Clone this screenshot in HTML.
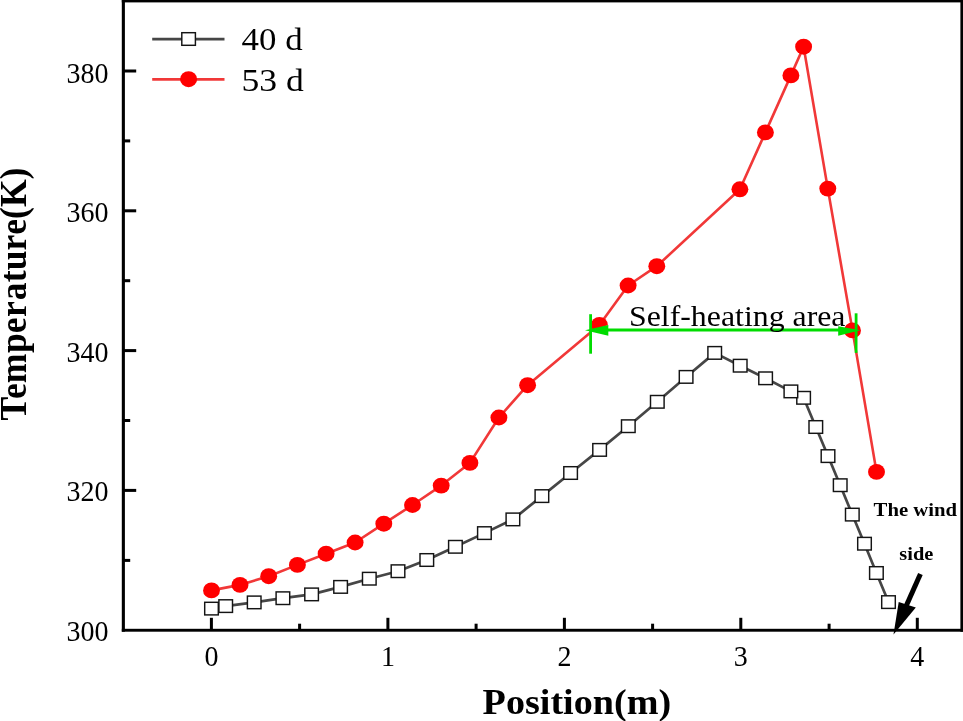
<!DOCTYPE html>
<html><head><meta charset="utf-8"><title>Temperature vs Position</title>
<style>html,body{margin:0;padding:0;background:#fff}svg{display:block}text{font-family:"Liberation Serif",serif;fill:#000;font-kerning:none}.b{font-weight:bold}</style>
</head><body>
<svg width="963" height="721" viewBox="0 0 963 721">
<rect x="0" y="0" width="963" height="721" fill="#fff"/>
<polyline points="211.5,608.6 225.7,606.1 254.2,602.4 282.9,598.2 311.6,594.4 340.6,586.9 369.3,578.7 398.0,571.2 426.8,560.0 455.4,546.8 484.4,533.1 512.9,519.4 541.9,496.1 570.6,473.0 599.6,449.9 628.3,426.2 657.3,401.8 686.1,376.9 714.7,352.9 740.2,365.7 765.6,378.3 790.9,391.4 803.6,397.8 815.8,427.0 828.0,456.1 840.2,485.2 852.3,514.6 864.5,543.7 876.4,573.0 888.5,602.1" fill="none" stroke="#464646" stroke-width="2.7" stroke-linejoin="round"/>
<polyline points="211.5,590.4 240.0,584.9 268.7,576.2 297.4,564.9 326.1,553.7 355.1,542.5 383.8,523.7 412.5,505.0 441.2,485.6 469.9,462.9 498.9,417.5 527.6,385.2 599.4,324.9 628.1,285.5 656.8,266.2 739.9,189.3 765.4,132.4 790.9,75.4 803.6,46.7 827.8,188.6 852.5,330.4 876.5,471.9" fill="none" stroke="#f13838" stroke-width="2.6" stroke-linejoin="round"/>
<rect x="881.7" y="595.8" width="13.6" height="12.6" fill="#fff" stroke="#141414" stroke-width="1.45"/>
<rect x="869.6" y="566.7" width="13.6" height="12.6" fill="#fff" stroke="#141414" stroke-width="1.45"/>
<rect x="857.7" y="537.4" width="13.6" height="12.6" fill="#fff" stroke="#141414" stroke-width="1.45"/>
<rect x="845.5" y="508.3" width="13.6" height="12.6" fill="#fff" stroke="#141414" stroke-width="1.45"/>
<rect x="833.4" y="478.9" width="13.6" height="12.6" fill="#fff" stroke="#141414" stroke-width="1.45"/>
<rect x="821.2" y="449.8" width="13.6" height="12.6" fill="#fff" stroke="#141414" stroke-width="1.45"/>
<rect x="809.0" y="420.7" width="13.6" height="12.6" fill="#fff" stroke="#141414" stroke-width="1.45"/>
<rect x="796.8" y="391.5" width="13.6" height="12.6" fill="#fff" stroke="#141414" stroke-width="1.45"/>
<rect x="784.1" y="385.1" width="13.6" height="12.6" fill="#fff" stroke="#141414" stroke-width="1.45"/>
<rect x="758.8" y="372.0" width="13.6" height="12.6" fill="#fff" stroke="#141414" stroke-width="1.45"/>
<rect x="733.4" y="359.4" width="13.6" height="12.6" fill="#fff" stroke="#141414" stroke-width="1.45"/>
<rect x="707.9" y="346.6" width="13.6" height="12.6" fill="#fff" stroke="#141414" stroke-width="1.45"/>
<rect x="679.3" y="370.6" width="13.6" height="12.6" fill="#fff" stroke="#141414" stroke-width="1.45"/>
<rect x="650.5" y="395.5" width="13.6" height="12.6" fill="#fff" stroke="#141414" stroke-width="1.45"/>
<rect x="621.5" y="419.9" width="13.6" height="12.6" fill="#fff" stroke="#141414" stroke-width="1.45"/>
<rect x="592.8" y="443.6" width="13.6" height="12.6" fill="#fff" stroke="#141414" stroke-width="1.45"/>
<rect x="563.8" y="466.7" width="13.6" height="12.6" fill="#fff" stroke="#141414" stroke-width="1.45"/>
<rect x="535.1" y="489.8" width="13.6" height="12.6" fill="#fff" stroke="#141414" stroke-width="1.45"/>
<rect x="506.1" y="513.1" width="13.6" height="12.6" fill="#fff" stroke="#141414" stroke-width="1.45"/>
<rect x="477.6" y="526.8" width="13.6" height="12.6" fill="#fff" stroke="#141414" stroke-width="1.45"/>
<rect x="448.6" y="540.5" width="13.6" height="12.6" fill="#fff" stroke="#141414" stroke-width="1.45"/>
<rect x="420.0" y="553.7" width="13.6" height="12.6" fill="#fff" stroke="#141414" stroke-width="1.45"/>
<rect x="391.2" y="564.9" width="13.6" height="12.6" fill="#fff" stroke="#141414" stroke-width="1.45"/>
<rect x="362.5" y="572.4" width="13.6" height="12.6" fill="#fff" stroke="#141414" stroke-width="1.45"/>
<rect x="333.8" y="580.6" width="13.6" height="12.6" fill="#fff" stroke="#141414" stroke-width="1.45"/>
<rect x="304.8" y="588.1" width="13.6" height="12.6" fill="#fff" stroke="#141414" stroke-width="1.45"/>
<rect x="276.1" y="591.9" width="13.6" height="12.6" fill="#fff" stroke="#141414" stroke-width="1.45"/>
<rect x="247.4" y="596.1" width="13.6" height="12.6" fill="#fff" stroke="#141414" stroke-width="1.45"/>
<rect x="218.9" y="599.8" width="13.6" height="12.6" fill="#fff" stroke="#141414" stroke-width="1.45"/>
<rect x="204.7" y="602.3" width="13.6" height="12.6" fill="#fff" stroke="#141414" stroke-width="1.45"/>
<ellipse cx="211.5" cy="590.4" rx="8.45" ry="7.95" fill="#ff0000"/>
<ellipse cx="240.0" cy="584.9" rx="8.45" ry="7.95" fill="#ff0000"/>
<ellipse cx="268.7" cy="576.2" rx="8.45" ry="7.95" fill="#ff0000"/>
<ellipse cx="297.4" cy="564.9" rx="8.45" ry="7.95" fill="#ff0000"/>
<ellipse cx="326.1" cy="553.7" rx="8.45" ry="7.95" fill="#ff0000"/>
<ellipse cx="355.1" cy="542.5" rx="8.45" ry="7.95" fill="#ff0000"/>
<ellipse cx="383.8" cy="523.7" rx="8.45" ry="7.95" fill="#ff0000"/>
<ellipse cx="412.5" cy="505.0" rx="8.45" ry="7.95" fill="#ff0000"/>
<ellipse cx="441.2" cy="485.6" rx="8.45" ry="7.95" fill="#ff0000"/>
<ellipse cx="469.9" cy="462.9" rx="8.45" ry="7.95" fill="#ff0000"/>
<ellipse cx="498.9" cy="417.5" rx="8.45" ry="7.95" fill="#ff0000"/>
<ellipse cx="527.6" cy="385.2" rx="8.45" ry="7.95" fill="#ff0000"/>
<ellipse cx="599.4" cy="324.9" rx="8.45" ry="7.95" fill="#ff0000"/>
<ellipse cx="628.1" cy="285.5" rx="8.45" ry="7.95" fill="#ff0000"/>
<ellipse cx="656.8" cy="266.2" rx="8.45" ry="7.95" fill="#ff0000"/>
<ellipse cx="739.9" cy="189.3" rx="8.45" ry="7.95" fill="#ff0000"/>
<ellipse cx="765.4" cy="132.4" rx="8.45" ry="7.95" fill="#ff0000"/>
<ellipse cx="790.9" cy="75.4" rx="8.45" ry="7.95" fill="#ff0000"/>
<ellipse cx="803.6" cy="46.7" rx="8.45" ry="7.95" fill="#ff0000"/>
<ellipse cx="827.8" cy="188.6" rx="8.45" ry="7.95" fill="#ff0000"/>
<ellipse cx="852.5" cy="330.4" rx="8.45" ry="7.95" fill="#ff0000"/>
<ellipse cx="876.5" cy="471.9" rx="8.45" ry="7.95" fill="#ff0000"/>
<polygon points="592,330.5 608.6,325 608.6,334.5 592,334.5" fill="#fff"/>
<g stroke="#00dc00" fill="#00dc00">
<line x1="590.6" y1="314.2" x2="590.6" y2="353.7" stroke-width="2.8"/>
<line x1="856.1" y1="313.3" x2="856.1" y2="352.9" stroke-width="2.8"/>
<line x1="600" y1="330" x2="845" y2="330" stroke-width="3"/>
<polygon points="585,330.2 608.3,325 608.3,335.7" stroke="none"/>
<polygon points="860.4,330.2 838.2,326.2 838.2,335.7" stroke="none"/>
</g>
<text x="629" y="326.2" font-size="30" textLength="216.5" lengthAdjust="spacingAndGlyphs">Self-heating area</text>
<g fill="#000">
<rect x="121.8" y="0" width="841.2" height="2.4"/>
<rect x="121.8" y="0" width="3.1" height="631.7"/>
<rect x="121.8" y="628.8" width="841.2" height="2.9"/>
<rect x="960.4" y="0" width="2.6" height="631.7"/>
<rect x="123" y="558.9" width="7.2" height="3"/>
<rect x="123" y="488.9" width="13.2" height="3"/>
<rect x="123" y="419.0" width="7.2" height="3"/>
<rect x="123" y="349.1" width="13.2" height="3"/>
<rect x="123" y="279.2" width="7.2" height="3"/>
<rect x="123" y="209.3" width="13.2" height="3"/>
<rect x="123" y="139.4" width="7.2" height="3"/>
<rect x="123" y="69.5" width="13.2" height="3"/>
<rect x="209.9" y="617.8" width="3" height="12.4"/>
<rect x="298.1" y="623.7" width="3" height="6.5"/>
<rect x="386.4" y="617.8" width="3" height="12.4"/>
<rect x="474.6" y="623.7" width="3" height="6.5"/>
<rect x="562.9" y="617.8" width="3" height="12.4"/>
<rect x="651.1" y="623.7" width="3" height="6.5"/>
<rect x="739.3" y="617.8" width="3" height="12.4"/>
<rect x="827.6" y="623.7" width="3" height="6.5"/>
<rect x="915.8" y="617.8" width="3" height="12.4"/>
</g>
<text transform="translate(108.6 641.1) scale(1 1.055)" font-size="28" text-anchor="end">300</text>
<text transform="translate(108.6 500.9) scale(1 1.055)" font-size="28" text-anchor="end">320</text>
<text transform="translate(108.6 362.0) scale(1 1.055)" font-size="28" text-anchor="end">340</text>
<text transform="translate(108.6 222.0) scale(1 1.055)" font-size="28" text-anchor="end">360</text>
<text transform="translate(108.6 83.0) scale(1 1.055)" font-size="28" text-anchor="end">380</text>
<text transform="translate(211.4 666) scale(1 1.055)" font-size="28" text-anchor="middle">0</text>
<text transform="translate(387.9 666) scale(1 1.055)" font-size="28" text-anchor="middle">1</text>
<text transform="translate(564.4 666) scale(1 1.055)" font-size="28" text-anchor="middle">2</text>
<text transform="translate(740.8 666) scale(1 1.055)" font-size="28" text-anchor="middle">3</text>
<text transform="translate(917.3 666) scale(1 1.055)" font-size="28" text-anchor="middle">4</text>
<text class="b" x="482.6" y="714.2" font-size="36.5" textLength="188.5" lengthAdjust="spacingAndGlyphs">Position(m)</text>
<text class="b" transform="translate(26.4 420.5) rotate(-90) scale(0.9366 1)" font-size="38" dx="0 -2.4 0 0.5 0 0.7 0.9 0.3">Temperature(K)</text>
<line x1="152.2" y1="39.1" x2="224.5" y2="39.1" stroke="#464646" stroke-width="2.8"/>
<rect x="181.8" y="32.7" width="13.6" height="12.6" fill="#fff" stroke="#141414" stroke-width="1.45"/>
<line x1="152.2" y1="79.4" x2="224.5" y2="79.4" stroke="#f13838" stroke-width="2.7"/>
<ellipse cx="188.6" cy="79.2" rx="8.5" ry="7.95" fill="#ff0000"/>
<text x="241.6" y="50" font-size="30.5" textLength="61" lengthAdjust="spacingAndGlyphs">40 d</text>
<text x="241.4" y="90.5" font-size="30.5" textLength="62.3" lengthAdjust="spacingAndGlyphs">53 d</text>
<text class="b" x="873.6" y="515.6" font-size="18.5" textLength="83.5" lengthAdjust="spacingAndGlyphs">The wind</text>
<text class="b" x="899.3" y="559.6" font-size="18.5" textLength="34" lengthAdjust="spacingAndGlyphs">side</text>
<line x1="920.4" y1="573.9" x2="905.5" y2="607.5" stroke="#000" stroke-width="5"/>
<polygon points="893.5,634.6 898.7,602 915.8,607.6" fill="#000"/>
</svg>
</body></html>
